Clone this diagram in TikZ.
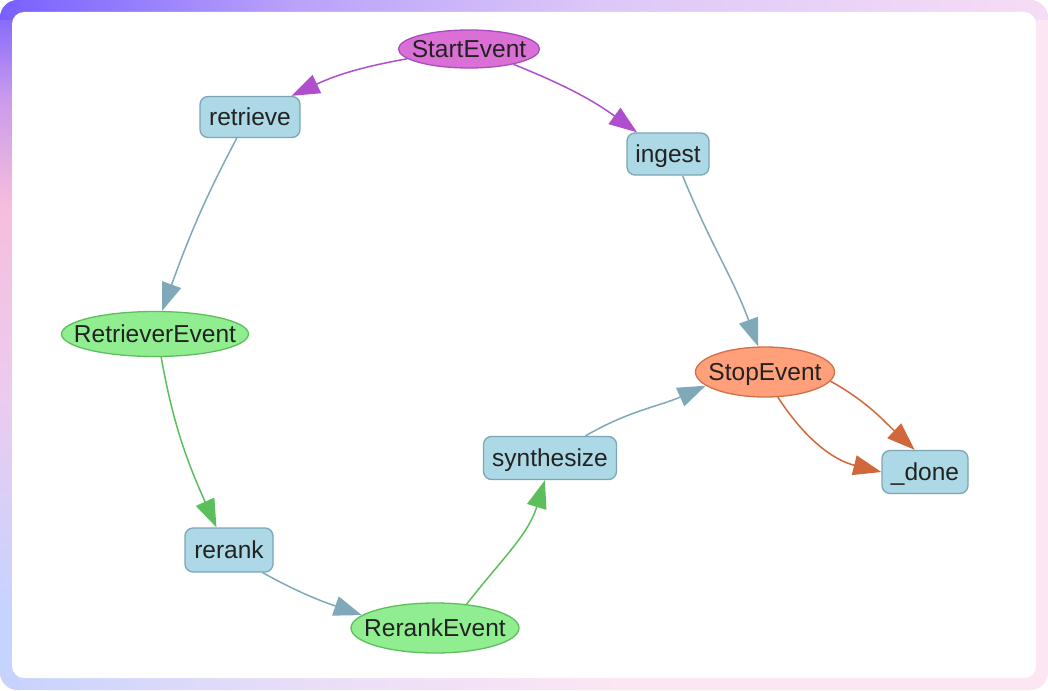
\documentclass[tikz,border=0pt]{standalone}
\usepackage{fontspec}
\setmainfont{Liberation Sans}
\usetikzlibrary{shapes.geometric,arrows.meta}
\definecolor{frbase}{HTML}{FCE6F3}
\definecolor{frpurple}{HTML}{7860FF}
\definecolor{frlilac}{HTML}{C99AEB}
\definecolor{frpink}{HTML}{F6BEDC}
\definecolor{frmid}{HTML}{EBCBEF}
\definecolor{frblue}{HTML}{C6D3FF}
\definecolor{frtop1}{HTML}{B9A2FA}
\definecolor{frtop2}{HTML}{DCC8F8}
\definecolor{frtop3}{HTML}{F6DDF5}
\definecolor{frbot1}{HTML}{E8DDF8}
\definecolor{startfill}{HTML}{DA70D6}
\definecolor{startline}{HTML}{A84CC0}
\definecolor{purpleedge}{HTML}{B04ED0}
\definecolor{boxfill}{HTML}{ADD8E6}
\definecolor{boxline}{HTML}{7BA6B6}
\definecolor{blueedge}{HTML}{7FA9B8}
\definecolor{greenfill}{HTML}{90EE90}
\definecolor{greenline}{HTML}{5EBE5E}
\definecolor{greenedge}{HTML}{5CBF5C}
\definecolor{stopfill}{HTML}{FFA07A}
\definecolor{stopline}{HTML}{D07048}
\definecolor{orangeedge}{HTML}{D0683C}
\definecolor{txt}{HTML}{222222}
\pgfdeclareverticalshading{leftframe}{100bp}{color(0bp)=(frblue); color(25bp)=(frblue); color(31bp)=(frblue); color(46bp)=(frmid); color(60bp)=(frpink); color(68bp)=(frlilac); color(75bp)=(frpurple); color(100bp)=(frpurple)}
\pgfdeclarehorizontalshading{topframe}{100bp}{color(0bp)=(frpurple); color(25bp)=(frpurple); color(39bp)=(frtop1); color(54bp)=(frtop2); color(75bp)=(frtop3); color(100bp)=(frtop3)}
\pgfdeclarehorizontalshading{bottomframe}{100bp}{color(0bp)=(frblue); color(25bp)=(frblue); color(39bp)=(frbot1); color(55bp)=(frbase); color(75bp)=(frbase); color(100bp)=(frbase)}
\begin{document}
\begin{tikzpicture}[x=1pt,y=1pt,
  every node/.style={font=\fontsize{24.5}{28}\selectfont, text=txt, inner sep=0pt, text height=17.5pt, text depth=0pt},
  boxnode/.style={rectangle, rounded corners=8pt, fill=boxfill, draw=boxline, line width=1.3pt},
  evnode/.style={ellipse, line width=1.3pt},
  edge/.style={line width=1.5pt, -{Triangle[length=28pt,width=20pt]}},
  pe/.style={edge, draw=purpleedge},
  be/.style={edge, draw=blueedge},
  ge/.style={edge, draw=greenedge},
  oe/.style={edge, draw=orangeedge}]
\useasboundingbox (0,0) rectangle (1048,-690);
% frame
\begin{scope}
\clip[rounded corners=18pt] (0,0) rectangle (1048,-690);
\fill[frbase] (0,0) rectangle (1048,-690);
\shade[shading=bottomframe] (0,-670) rectangle (1048,-690);
\shade[shading=leftframe] (0,0) rectangle (20,-690);
\shade[shading=topframe] (0,0) rectangle (1048,-20);
\end{scope}
\fill[white, rounded corners=12pt] (12,-12) rectangle (1036,-678);
% nodes
\node[evnode, fill=startfill, draw=startline, minimum width=141pt, minimum height=38pt] (start) at (469,-49) {\makebox[0pt]{StartEvent}};
\node[boxnode, minimum width=100pt, minimum height=41pt] (retrieve) at (250,-117) {retrieve};
\node[boxnode, minimum width=82pt, minimum height=42pt] (ingest) at (668,-154) {ingest};
\node[evnode, fill=greenfill, draw=greenline, minimum width=187pt, minimum height=45pt] (retrev) at (155,-334) {\makebox[0pt]{RetrieverEvent}};
\node[evnode, fill=stopfill, draw=stopline, minimum width=139pt, minimum height=50pt] (stop) at (765,-372) {\makebox[0pt]{StopEvent}};
\node[boxnode, minimum width=86pt, minimum height=43pt] (done) at (925,-472) {\_done};
\node[boxnode, minimum width=133pt, minimum height=43pt] (synth) at (550,-458) {synthesize};
\node[boxnode, minimum width=88pt, minimum height=44pt] (rerank) at (229,-550) {rerank};
\node[evnode, fill=greenfill, draw=greenline, minimum width=168pt, minimum height=50pt] (rrev) at (435,-628) {\makebox[0pt]{RerankEvent}};
% edges
\draw[pe] (start.189) to[out=190,in=25] (retrieve.27);
\draw[pe] (start.341) to[out=338,in=144] (ingest.145);
\draw[be] (retrieve.238) to[out=242,in=70] (retrev.73);
\draw[ge] (retrev.285) to[out=280,in=114] (rerank.119);
\draw[be] (rerank.326) to[out=331,in=161] (rrev.170);
\draw[ge] (rrev.37) to[out=52,in=253] (synth.257);
\draw[be] (synth.32) to[out=30,in=204] (stop.193);
\draw[be] (ingest.304) to[out=292,in=110] (stop.105);
\draw[oe] (stop.352) to[out=331,in=137] (done.115);
\draw[oe] (stop.297) to[out=303,in=166] (done.180);
\end{tikzpicture}
\end{document}
